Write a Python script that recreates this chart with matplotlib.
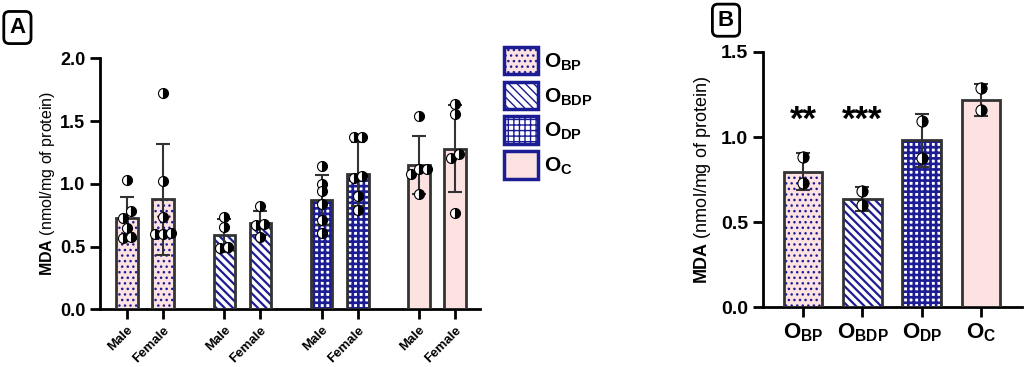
import matplotlib
matplotlib.use("Agg")
import matplotlib.pyplot as plt
from matplotlib.patches import Patch
import numpy as np

plt.rcParams['font.family'] = ['Liberation Sans', 'DejaVu Sans']
plt.rcParams['mathtext.fontset'] = 'custom'
plt.rcParams['mathtext.rm'] = 'Liberation Sans'
plt.rcParams['mathtext.bf'] = 'Liberation Sans:bold'

# ---- data, panel A (by group and sex) ----
groups = ['BP', 'BDP', 'DP', 'C']
sexes = ['Male', 'Female']
a_means = [0.725, 0.876, 0.59, 0.685, 0.87, 1.08, 1.15, 1.28]
a_sd = [0.172, 0.445, 0.13, 0.095, 0.20, 0.255, 0.233, 0.345]
a_points = [
    [1.03, 0.78, 0.73, 0.65, 0.57, 0.58],
    [1.72, 1.02, 0.74, 0.60, 0.60, 0.61],
    [0.66, 0.74, 0.49, 0.50],
    [0.82, 0.68, 0.67, 0.58],
    [1.14, 1.00, 0.94, 0.84, 0.71, 0.61],
    [1.375, 1.375, 1.06, 1.05, 0.90, 0.79],
    [1.54, 1.12, 1.12, 1.08, 0.92],
    [1.64, 1.56, 1.24, 1.21, 0.765],
]

# ---- data, panel B ----
b_means = [0.796, 0.636, 0.982, 1.217]
b_sd = [0.11, 0.068, 0.156, 0.093]
b_points = [[0.884, 0.728], [0.684, 0.60], [1.095, 0.874], [1.285, 1.158]]
b_sig = ['**', '***', '', '']

navy = '#1c1c94'
pink = '#fde2e2'
edge = '#333333'
styles = {
    'BP': dict(facecolor=pink, hatch='...', hlw=1.0),
    'BDP': dict(facecolor='white', hatch='\\\\\\\\', hlw=1.6),
    'DP': dict(facecolor='white', hatch='+++', hlw=1.9),
    'C': dict(facecolor=pink, hatch=None, hlw=1.0),
}


def label(g):
    return r'$\mathbf{O}_{\mathbf{' + g + '}}$'


def spread(vals, thr, step):
    vals = np.asarray(vals, dtype=float)
    order = np.argsort(vals)
    offs = np.zeros(len(vals))
    clusters = [[order[0]]]
    for i in order[1:]:
        if vals[i] - vals[clusters[-1][-1]] < thr:
            clusters[-1].append(i)
        else:
            clusters.append([i])
    for c in clusters:
        for k, i in enumerate(c):
            offs[i] = (k - (len(c) - 1) / 2) * step
    return offs


def draw_bar(ax, x, h, sd, pts, g, width, thr, step, ms):
    st = styles[g]
    with plt.rc_context({'hatch.linewidth': st['hlw']}):
        ax.bar(x, h, width, color=st['facecolor'], hatch=st['hatch'],
               edgecolor=navy, linewidth=0, zorder=2)
    ax.bar(x, h, width, fill=False, edgecolor=edge, linewidth=2, zorder=3)
    ax.errorbar(x, h, yerr=sd, fmt='none', ecolor=edge, elinewidth=1.5,
                capsize=5, capthick=1.5, zorder=4)
    offs = spread(pts, thr, step)
    ax.plot(x + offs, pts, 'o', ms=ms, fillstyle='right', markerfacecolor='black',
            markerfacecoloralt='white', markeredgecolor='black', mew=0.8,
            linestyle='none', zorder=5)


def style_axes(ax):
    for s in ['top', 'right']:
        ax.spines[s].set_visible(False)
    for s in ['left', 'bottom']:
        ax.spines[s].set_linewidth(2)
    ax.tick_params(width=2, length=7, direction='out')


fig = plt.figure(figsize=(10.24, 3.67), dpi=100)

# ---- panel A ----
axA = fig.add_axes([0.0977, 0.157, 0.3713, 0.684])
xA = []
for gi in range(len(groups)):
    for si in range(len(sexes)):
        xA.append(gi * 2.7 + si)
for i, x in enumerate(xA):
    draw_bar(axA, x, a_means[i], a_sd[i], a_points[i], groups[i // 2], 0.6, 0.06, 0.22, 7.2)
axA.set_xlim(-0.75, 9.8)
axA.set_ylim(0, 2.0)
axA.set_yticks([0, 0.5, 1.0, 1.5, 2.0])
axA.set_yticklabels(['0.0', '0.5', '1.0', '1.5', '2.0'], fontsize=13, fontweight='bold')
axA.set_xticks(xA)
axA.set_xticklabels(sexes * len(groups), rotation=45, ha='right', rotation_mode='anchor',
                    fontsize=9.5, fontweight='bold')
axA.set_ylabel(r'$\mathbf{MDA}$ (nmol/mg of protein)', fontsize=11.5, labelpad=2)
style_axes(axA)

handles = []
for g in groups:
    with plt.rc_context({'hatch.linewidth': styles[g]['hlw']}):
        handles.append(Patch(facecolor=styles[g]['facecolor'], hatch=styles[g]['hatch'],
                             edgecolor=navy, linewidth=2.5, label=label(g)))
fig.legend(handles=handles, loc='upper left', bbox_to_anchor=(0.484, 0.895),
           frameon=False, fontsize=15, handlelength=1.65, handleheight=1.65,
           labelspacing=0.35, handletextpad=0.25, borderaxespad=0)

# ---- panel B ----
axB = fig.add_axes([0.745, 0.1627, 0.253, 0.696])
xB = np.arange(len(groups))
for i, x in enumerate(xB):
    draw_bar(axB, x, b_means[i], b_sd[i], b_points[i], groups[i], 0.65, 0.0, 0.0, 8)
    if b_sig[i]:
        axB.text(x, 1.0, b_sig[i], ha='center', va='bottom', fontsize=25, fontweight='bold')
axB.set_xlim(-0.68, 3.69)
axB.set_ylim(0, 1.5)
axB.set_yticks([0, 0.5, 1.0, 1.5])
axB.set_yticklabels(['0.0', '0.5', '1.0', '1.5'], fontsize=14, fontweight='bold')
axB.set_xticks(xB)
axB.set_xticklabels([label(g) for g in groups], fontsize=16)
axB.set_ylabel(r'$\mathbf{MDA}$ (nmol/mg of protein)', fontsize=13, labelpad=6)
style_axes(axB)

# panel letters
box = dict(boxstyle='round,pad=0.25', facecolor='white', edgecolor='black', linewidth=2)
fig.text(0.017, 0.925, 'A', fontsize=16, fontweight='bold', ha='center', va='center', bbox=box)
fig.text(0.709, 0.945, 'B', fontsize=16, fontweight='bold', ha='center', va='center', bbox=box)

fig.savefig('out.png', dpi=100)
